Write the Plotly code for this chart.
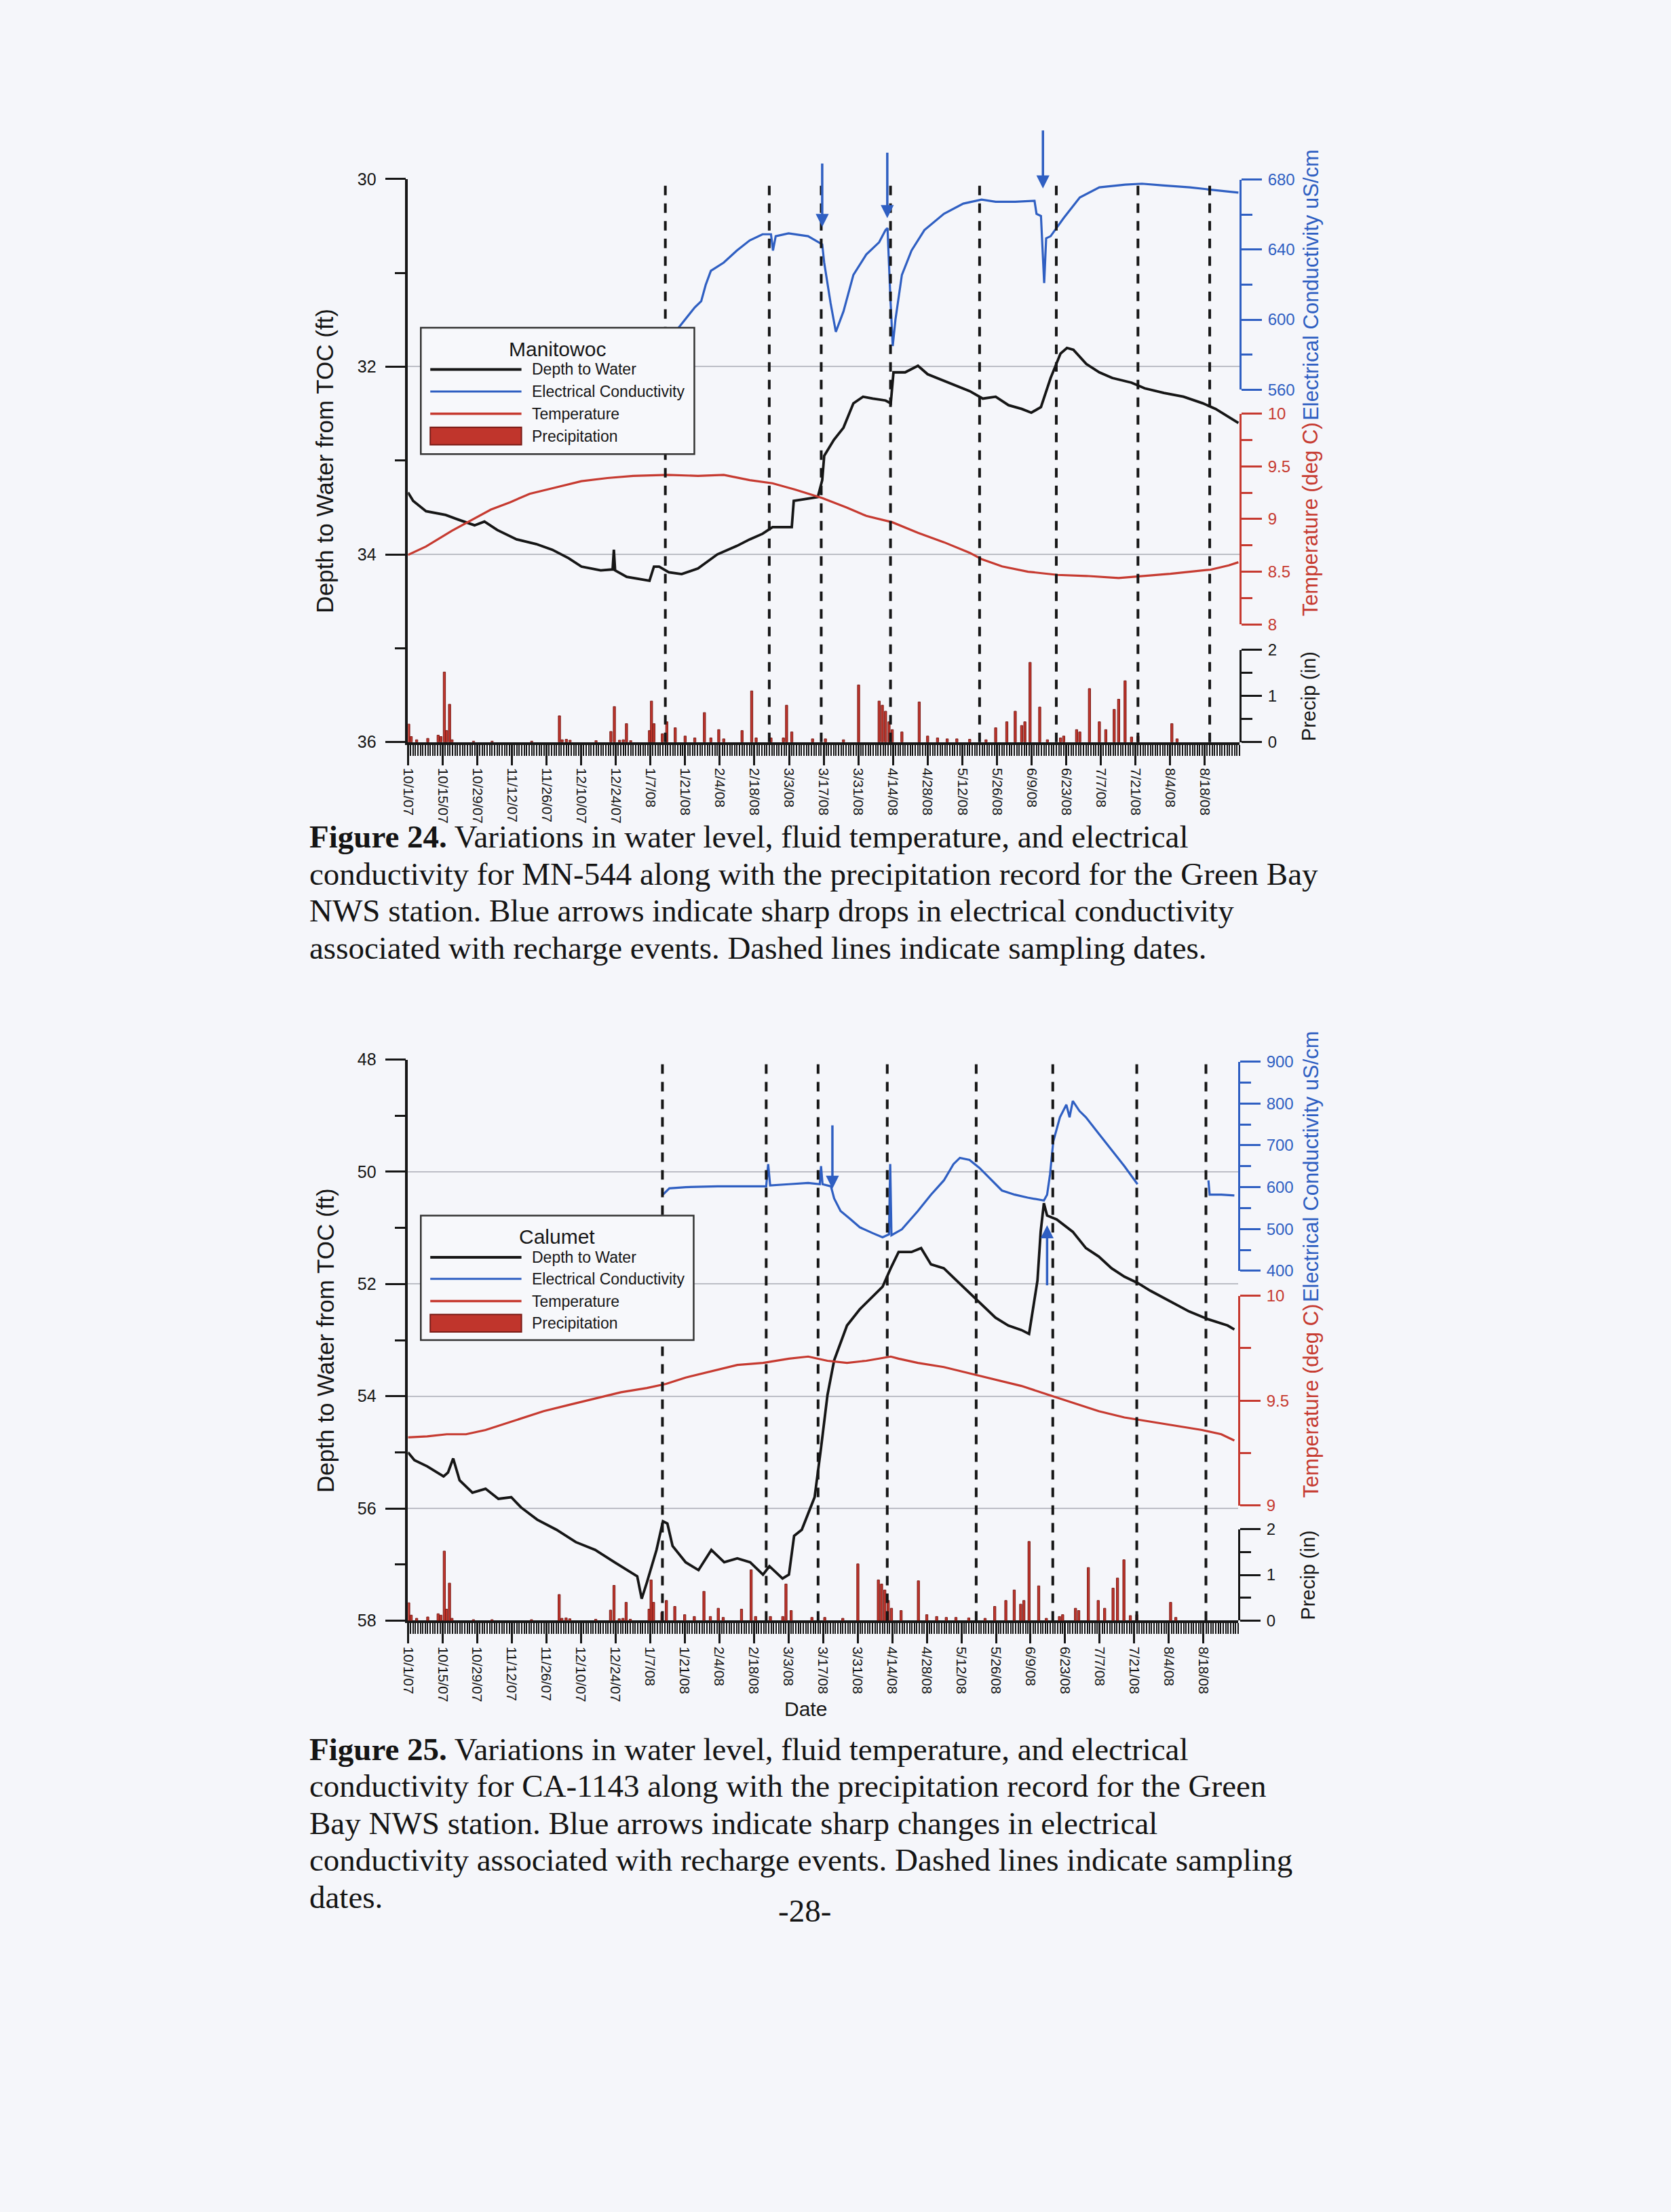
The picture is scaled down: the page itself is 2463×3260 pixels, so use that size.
import pandas as pd
import plotly.graph_objects as go

W, H = 2463, 3260
T0 = pd.Timestamp("2007-10-01")
X_START, X_END = "2007-10-01", "2008-09-01"

TICK_LABELS = ["10/1/07", "10/15/07", "10/29/07", "11/12/07", "11/26/07", "12/10/07",
               "12/24/07", "1/7/08", "1/21/08", "2/4/08", "2/18/08", "3/3/08", "3/17/08",
               "3/31/08", "4/14/08", "4/28/08", "5/12/08", "5/26/08", "6/9/08", "6/23/08",
               "7/7/08", "7/21/08", "8/4/08", "8/18/08"]

SAMPLING_MN = ["2008-01-13", "2008-02-24", "2008-03-16", "2008-04-13",
               "2008-05-19", "2008-06-19", "2008-07-22", "2008-08-20"]
SAMPLING_CA = ["2008-01-12", "2008-02-23", "2008-03-15", "2008-04-12",
               "2008-05-18", "2008-06-18", "2008-07-22", "2008-08-19"]

# ---- Manitowoc (MN-544), x in days since 10/1/07 ----
MN_DEPTH_DAYS = [0, 2.1, 7.3, 15.2, 20.4, 26.9, 30.9, 36.1, 43.9, 51.8, 58.3, 64.9, 70.1, 77.9,
                 82.7, 83.2, 83.7, 88.4, 97.6, 99.4, 101.5, 105.4, 110.6, 117.2, 125, 132.9,
                 138.1, 143.3, 147.3, 155.1, 155.9, 161.7, 165.6, 167.4, 168.2, 172.1, 176,
                 180, 183.9, 187.8, 193, 195.1, 196.2, 200.9, 206.1, 210, 216.6, 221.8, 227,
                 232.3, 237.5, 242.7, 248, 251.9, 255.8, 259.7, 263.7, 266.3, 268.9, 274.1,
                 279.4, 284.6, 292.4, 297.7, 305.5, 313.4, 321.2, 326.4, 331.7, 335.6]
MN_DEPTH_FT = [33.34, 33.43, 33.54, 33.58, 33.63, 33.69, 33.65, 33.74, 33.84, 33.89, 33.95,
               34.04, 34.13, 34.17, 34.16, 33.95, 34.17, 34.24, 34.28, 34.13, 34.13, 34.19,
               34.21, 34.15, 34.0, 33.91, 33.84, 33.78, 33.71, 33.71, 33.43, 33.41, 33.39,
               33.21, 32.95, 32.78, 32.65, 32.39, 32.32, 32.34, 32.36, 32.39, 32.06, 32.06,
               31.99, 32.08, 32.15, 32.21, 32.26, 32.34, 32.32, 32.41, 32.45, 32.49, 32.43,
               32.12, 31.86, 31.8, 31.82, 31.97, 32.06, 32.12, 32.17, 32.23, 32.28, 32.32,
               32.39, 32.45, 32.54, 32.6]

MN_TEMP_DAYS = [0, 7.3, 17.8, 25.6, 33.5, 41.3, 49.2, 59.6, 70.1, 80.6, 91, 104.9, 117.2,
                127.6, 138.1, 147.3, 156.4, 167.4, 177.3, 185.2, 195.7, 206.1, 216.6, 227,
                231.8, 240.1, 250.6, 262.4, 274.1, 287.2, 296.6, 308.1, 324.4, 331.7, 335.6]
MN_TEMP_C = [8.66, 8.74, 8.89, 8.99, 9.09, 9.16, 9.24, 9.30, 9.36, 9.39, 9.41, 9.42, 9.41,
             9.42, 9.37, 9.34, 9.28, 9.20, 9.11, 9.03, 8.97, 8.87, 8.78, 8.68, 8.62, 8.55,
             8.50, 8.47, 8.46, 8.44, 8.46, 8.48, 8.52, 8.56, 8.59]

MN_EC_DAYS = [109.3, 112, 115.9, 118.5, 120.3, 122.4, 127.6, 132.9, 138.1, 143.3, 146.7,
              147.5, 148.6, 153.8, 161.7, 167.4, 168.2, 170.8, 172.9, 176, 180, 185.2,
              190.4, 193, 193.8, 194.9, 195.9, 197, 199.6, 203.5, 208.7, 216.6, 224.4,
              231.8, 237.5, 245.4, 253.2, 254, 255.8, 257.1, 257.9, 259.7, 265, 271.5,
              279.4, 289.8, 296.6, 305.5, 316, 326.4, 335.6]
MN_EC = [595.3, 600, 607, 610.5, 619.8, 627.9, 632.6, 639.5, 645.3, 648.8, 648.8, 639.5,
         647.7, 649.3, 647.7, 643, 632.6, 609.3, 593, 604.7, 625.6, 637.2, 644.2, 651.2,
         652.3, 614, 584.9, 600, 625.6, 639.5, 651.2, 660.5, 666.3, 668.6, 667.4, 667.4,
         667.9, 660.5, 659.3, 620.9, 646.5, 647.7, 658.1, 669.8, 675.6, 677.2, 677.7,
         676.7, 675.6, 674, 672.6]

# ---- Calumet (CA-1143) ----
CA_DEPTH_DAYS = [0, 2.6, 7.8, 14.4, 16.2, 18.3, 20.9, 26.1, 31.4, 36.6, 41.8, 45.7, 52.3,
                 60.1, 67.9, 75.8, 83.6, 88.8, 92.8, 94.6, 96.7, 100.6, 103.2, 105, 107.1,
                 112.4, 117.6, 122.8, 128, 133.3, 138.5, 143.7, 146.3, 151.6, 154.2, 156.3,
                 159.4, 162, 164.6, 167.2, 169.8, 172.5, 177.7, 182.9, 188.1, 192.1, 195.4,
                 198.6, 203.8, 207.7, 211.7, 216.9, 222.1, 227.3, 232.6, 237.8, 243, 248.3,
                 251.4, 253, 254.8, 256.1, 257.4, 258.7, 262.6, 269.1, 274.4, 279.6, 284.8,
                 290, 295.3, 300.5, 308.3, 316.2, 324, 331.8, 334.5]
CA_DEPTH_FT = [55.0, 55.14, 55.25, 55.43, 55.36, 55.11, 55.5, 55.72, 55.65, 55.83, 55.80,
               55.98, 56.2, 56.38, 56.6, 56.74, 56.96, 57.1, 57.21, 57.61, 57.32, 56.74,
               56.23, 56.27, 56.67, 56.96, 57.1, 56.74, 56.96, 56.89, 56.96, 57.18, 57.03,
               57.25, 57.18, 56.49, 56.38, 56.09, 55.8, 54.92, 53.98, 53.36, 52.74, 52.45,
               52.23, 52.05, 51.72, 51.43, 51.43, 51.36, 51.65, 51.72, 51.94, 52.16, 52.38,
               52.6, 52.74, 52.82, 52.89, 52.41, 51.94, 51.07, 50.56, 50.78, 50.85, 51.07,
               51.36, 51.51, 51.72, 51.87, 51.98, 52.12, 52.31, 52.49, 52.63, 52.74, 52.81]

CA_TEMP_DAYS = [0, 7.8, 15.7, 23.5, 31.4, 39.2, 47, 54.9, 65.3, 75.8, 86.2, 96.7, 104.5,
                112.4, 122.8, 133.3, 143.7, 154.2, 162, 169.8, 177.7, 185.5, 195.4, 198.6,
                206.4, 216.9, 227.3, 237.8, 248.3, 258.7, 269.1, 279.6, 290, 300.5, 311,
                321.4, 329.2, 334.5]
CA_TEMP_C = [9.325, 9.33, 9.34, 9.34, 9.36, 9.39, 9.42, 9.45, 9.48, 9.51, 9.54, 9.56, 9.58,
             9.61, 9.64, 9.67, 9.68, 9.70, 9.71, 9.69, 9.68, 9.69, 9.71, 9.70, 9.68, 9.66,
             9.63, 9.60, 9.57, 9.53, 9.49, 9.45, 9.42, 9.40, 9.38, 9.36, 9.34, 9.31]

CA_EC_DAYS = [103.2, 105.8, 112.4, 125.4, 138.5, 145, 145.8, 146.6, 154.2, 162, 166.7, 167.2,
              167.8, 171.2, 172.5, 175.1, 179, 182.9, 188.1, 192.1, 194.7, 195.2, 195.7,
              199.9, 206.4, 211.7, 216.9, 220.8, 223.4, 227.3, 231.3, 236.5, 240.4, 245.6,
              250.8, 257.4, 258.7, 259.9, 261.2, 263.9, 266.5, 267.8, 269.1, 271.8, 274.4,
              279.6, 284.8, 290, 295.3, 310, 324, 324.5, 329.2, 334.5]
CA_EC = [582, 597, 600, 602, 602, 602, 655, 604, 607, 610, 607, 650, 607, 602, 573, 543,
         524, 504, 490, 480, 487, 655, 485, 499, 543, 582, 616, 655, 670, 665, 646, 616,
         592, 582, 575, 568, 582, 631, 709, 767, 797, 767, 806, 782, 767, 728, 689, 650,
         607, None, 616, 582, 582, 580]

# ---- Green Bay NWS precipitation (in), days since 10/1/07 ----
PRECIP_DAYS = [0.3, 1.3, 3.5, 8.0, 12.2, 13.3, 14.7, 15.6, 16.8, 17.8, 26.5, 34.0, 50.0,
               61.2, 62.3, 64.0, 65.5, 76.0, 82.0, 83.4, 85.5, 87.0, 88.3, 90.0, 97.6, 98.4,
               99.4, 102.8, 104.6, 108, 112, 115.9, 119.8, 122.4, 125.6, 127.6, 135, 138.9,
               140.7, 146.7, 151.7, 153, 155.1, 163.5, 168.7, 176, 182.1, 190.4, 191.7, 193,
               194.4, 195.7, 199.6, 206.6, 210, 214, 217.9, 221.8, 227, 233.6, 237.5, 242,
               245.4, 248, 249.3, 251.4, 255.3, 258.4, 263.7, 265, 270.2, 271.5, 275.4,
               279.4, 282, 285.4, 287.2, 289.8, 292.4, 295, 308.7, 310.8]
PRECIP_IN = [0.39, 0.12, 0.05, 0.08, 0.15, 0.12, 1.52, 0.25, 0.82, 0.05, 0.02, 0.02, 0.02,
             0.57, 0.05, 0.06, 0.04, 0.03, 0.23, 0.77, 0.04, 0.05, 0.40, 0.03, 0.25, 0.89,
             0.40, 0.18, 0.44, 0.31, 0.13, 0.09, 0.64, 0.09, 0.27, 0.07, 0.25, 1.11, 0.09,
             0.09, 0.09, 0.80, 0.22, 0.07, 0.07, 0.05, 1.24, 0.89, 0.80, 0.67, 0.44, 0.27,
             0.22, 0.87, 0.13, 0.09, 0.07, 0.07, 0.06, 0.05, 0.31, 0.44, 0.67, 0.36, 0.44,
             1.73, 0.76, 0.05, 0.09, 0.13, 0.27, 0.22, 1.16, 0.44, 0.27, 0.71, 0.93, 1.33,
             0.11, 0.13, 0.40, 0.07]

ARROWS_MN = [(167.4, 653, -95), (193.7, 658, -98), (256.6, 675, -87)]
ARROWS_CA = [(171.8, 596, -95), (258.7, 509, 90)]

CAPTION_24 = ["<b>Figure 24.</b> Variations in water level, fluid temperature, and electrical",
              "conductivity for MN-544 along with the precipitation record for the Green Bay",
              "NWS station. Blue arrows indicate sharp drops in electrical conductivity",
              "associated with recharge events. Dashed lines indicate sampling dates."]
CAPTION_25 = ["<b>Figure 25.</b> Variations in water level, fluid temperature, and electrical",
              "conductivity for CA-1143 along with the precipitation record for the Green",
              "Bay NWS station. Blue arrows indicate sharp changes in electrical",
              "conductivity associated with recharge events. Dashed lines indicate sampling",
              "dates."]

# ---------------- styling ----------------
SANS = "Liberation Sans, Arial, sans-serif"
SERIF = "Liberation Serif, Times New Roman, serif"
BLACK = "#161616"
BLUE = "#2f5fc2"
RED = "#c63a30"
P_FILL = "#c0352c"
P_EDGE = "#7a1c17"
GRID = "#bcbec6"
BG = "#f5f6fa"


def dates(days):
    return [T0 + pd.Timedelta(days=float(d)) for d in days]


def fy(p):
    return 1 - p / H


def fx(p):
    return p / W


def y_axis(top, bottom, rng, dtick, mdtick, color, side, anchor, grid=False, fs=24):
    lo = min(rng)
    return dict(domain=[fy(bottom), fy(top)], range=rng, side=side, anchor=anchor,
                showline=True, linecolor=color, linewidth=3,
                ticks="outside", ticklen=30, tickwidth=3, tickcolor=color,
                tickmode="linear", tick0=lo, dtick=dtick,
                minor=dict(ticks="outside", tickmode="linear", tick0=lo, dtick=mdtick,
                           ticklen=16, tickwidth=2.5, tickcolor=color, showgrid=False),
                tickfont=dict(family=SANS, size=fs, color=color), ticklabelstandoff=4,
                showgrid=grid, gridcolor=GRID, gridwidth=2, zeroline=False, fixedrange=True)


TICK_VALS = list(pd.to_datetime(TICK_LABELS, format="%m/%d/%y"))


def x_axis(left, right, anchor):
    return dict(domain=[fx(left), fx(right)], anchor=anchor, type="date",
                range=[X_START, X_END], showline=True, linecolor=BLACK, linewidth=4,
                tickmode="array", tickvals=TICK_VALS, ticktext=TICK_LABELS, tickangle=90,
                ticks="outside", ticklen=30, tickwidth=3, tickcolor=BLACK,
                minor=dict(ticks="outside", tickmode="linear", tick0=X_START,
                           dtick=86400000, ticklen=16, tickwidth=2, tickcolor=BLACK,
                           showgrid=False),
                tickfont=dict(family=SANS, size=21, color=BLACK), ticklabelstandoff=0,
                showgrid=False, zeroline=False, fixedrange=True)


def text(x, y, s, size, color=BLACK, family=SANS, angle=0, xa="center", ya="middle"):
    return dict(x=fx(x), y=fy(y), xref="paper", yref="paper", text=s, showarrow=False,
                xanchor=xa, yanchor=ya, textangle=angle,
                font=dict(family=family, size=size, color=color))


fig = go.Figure()
layout = dict(width=W, height=H, margin=dict(l=0, r=0, t=0, b=0),
              paper_bgcolor=BG, plot_bgcolor="rgba(0,0,0,0)", showlegend=False)
shapes, annotations = [], []

panels = [
    dict(name="Manitowoc", x="x", xkey="xaxis", left=593, right=1824,
         ys=["y", "y2", "y3", "y4"],
         depth=(252, 1089, [36, 30]), ec=(253, 565, [560, 680], 40, 20),
         temp=(601, 914, [8, 10], 0.5, 0.25), prec=(952, 1089),
         depth_days=MN_DEPTH_DAYS, depth_v=MN_DEPTH_FT, ec_days=MN_EC_DAYS, ec_v=MN_EC,
         t_days=MN_TEMP_DAYS, t_v=MN_TEMP_C, samp=SAMPLING_MN, arrows=ARROWS_MN,
         legend=(612, 473, 1017, 661, 505, [535, 568, 601, 634])),
    dict(name="Calumet", x="x2", xkey="xaxis2", left=593, right=1822,
         ys=["y5", "y6", "y7", "y8"],
         depth=(1561, 2395, [58, 48]), ec=(1564, 1875, [400, 900], 100, 50),
         temp=(1912, 2224, [9, 10], 0.5, 0.25), prec=(2259, 2395),
         depth_days=CA_DEPTH_DAYS, depth_v=CA_DEPTH_FT, ec_days=CA_EC_DAYS, ec_v=CA_EC,
         t_days=CA_TEMP_DAYS, t_v=CA_TEMP_C, samp=SAMPLING_CA, arrows=ARROWS_CA,
         legend=(612, 1793, 1016, 1978, 1824, [1855, 1887, 1920, 1953])),
]

for p in panels:
    yd, ye, yt, yp = p["ys"]
    k = lambda n: "yaxis" + n[1:]
    layout[p["xkey"]] = x_axis(p["left"], p["right"], yd)
    dt, db, dr = p["depth"]
    layout[k(yd)] = y_axis(dt, db, dr, 2, 1, BLACK, "left", p["x"], grid=True, fs=25)
    layout[k(yd)]["linewidth"] = 3.5
    layout[k(yd)]["ticklabelstandoff"] = 8
    et, eb, er, ed, emd = p["ec"]
    layout[k(ye)] = y_axis(et, eb, er, ed, emd, BLUE, "right", p["x"])
    tt, tb, tr, td, tmd = p["temp"]
    layout[k(yt)] = y_axis(tt, tb, tr, td, tmd, RED, "right", p["x"])
    pt, pb = p["prec"]
    layout[k(yp)] = y_axis(pt, pb, [0, 2], 1, 0.5, BLACK, "right", p["x"])

    fig.add_trace(go.Bar(x=dates(PRECIP_DAYS), y=PRECIP_IN, xaxis=p["x"], yaxis=yp,
                         width=86400000 * 0.9,
                         marker=dict(color=P_FILL, line=dict(color=P_EDGE, width=1))))
    fig.add_trace(go.Scatter(x=dates(p["t_days"]), y=p["t_v"], xaxis=p["x"], yaxis=yt,
                             mode="lines", line=dict(color=RED, width=3.2)))
    fig.add_trace(go.Scatter(x=dates(p["ec_days"]), y=p["ec_v"], xaxis=p["x"], yaxis=ye,
                             mode="lines", line=dict(color=BLUE, width=3.2),
                             connectgaps=False))
    fig.add_trace(go.Scatter(x=dates(p["depth_days"]), y=p["depth_v"], xaxis=p["x"], yaxis=yd,
                             mode="lines", line=dict(color=BLACK, width=3.8)))

    for s in p["samp"]:
        shapes.append(dict(type="line", xref=p["x"], yref=yd + " domain", x0=s, x1=s,
                           y0=0, y1=1, line=dict(color=BLACK, width=4, dash="14px,12px")))
    for d, v, ay in p["arrows"]:
        annotations.append(dict(x=T0 + pd.Timedelta(days=d), y=v, xref=p["x"], yref=ye,
                                ax=0, ay=ay, text="", showarrow=True, arrowhead=2,
                                arrowsize=1.1, arrowwidth=3.5, arrowcolor=BLUE))

    # legend box
    lx0, ly0, lx1, ly1, title_y, rows = p["legend"]
    shapes.append(dict(type="rect", xref="paper", yref="paper", x0=fx(lx0), x1=fx(lx1),
                       y0=fy(ly1), y1=fy(ly0), line=dict(color="#333", width=2.5),
                       fillcolor="#f7f8fb", layer="above"))
    annotations.append(text((lx0 + lx1) / 2, title_y, p["name"], 30))
    entries = [("Depth to Water", BLACK, 4), ("Electrical Conductivity", BLUE, 3),
               ("Temperature", RED, 3.5), ("Precipitation", None, 0)]
    for (lab, col, wd), ry in zip(entries, rows):
        if col is None:
            shapes.append(dict(type="rect", xref="paper", yref="paper", x0=fx(lx0 + 14),
                               x1=fx(lx0 + 149), y0=fy(ry + 13), y1=fy(ry - 13),
                               fillcolor=P_FILL, line=dict(color=P_EDGE, width=2),
                               layer="above"))
        else:
            shapes.append(dict(type="line", xref="paper", yref="paper", x0=fx(lx0 + 14),
                               x1=fx(lx0 + 149), y0=fy(ry), y1=fy(ry),
                               line=dict(color=col, width=wd), layer="above"))
        annotations.append(text(lx0 + 162, ry, lab, 23, xa="left"))

    # axis titles
    annotations.append(text(470, (dt + db) / 2, "Depth to Water from TOC (ft)", 35, angle=-90))
    annotations.append(text(1930, (et + eb) / 2, "Electrical Conductivity uS/cm", 31,
                            color=BLUE, angle=-90))
    annotations.append(text(1930, (tt + tb) / 2, "Temperature (deg C)", 31, color=RED,
                            angle=-90))
    annotations.append(text(1926, (pt + pb) / 2, "Precip (in)", 29, angle=-90))

annotations.append(text(1182, 2526, "Date", 30))

for lines, y0, step in ((CAPTION_24, 1230, 55), (CAPTION_25, 2586, 55)):
    for i, ln in enumerate(lines):
        annotations.append(text(445, y0 + step * i, ln, 47, color="#141414", family=SERIF,
                                xa="left"))
annotations.append(text(1180, 2826, "-28-", 47, color="#141414", family=SERIF))

layout["shapes"] = shapes
layout["annotations"] = annotations
fig.update_layout(**layout)
fig.write_html("out.html", config={"displayModeBar": False},
               post_script="document.body.style.margin='0';document.body.style.overflow='hidden';")
